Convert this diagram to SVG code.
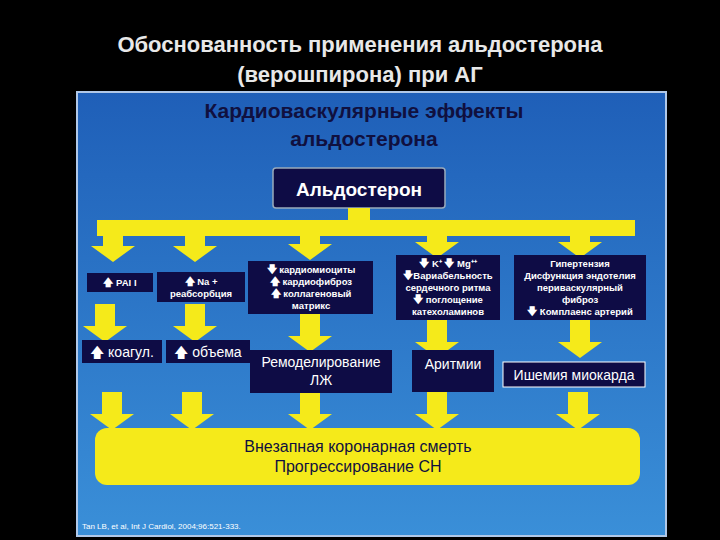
<svg xmlns="http://www.w3.org/2000/svg" width="720" height="540" viewBox="0 0 720 540">
<defs>
<linearGradient id="bg" x1="0" y1="0" x2="0" y2="1"><stop offset="0" stop-color="#1f5fb8"/><stop offset="1" stop-color="#3a8fd8"/></linearGradient>
<path id="a1" d="M-10,0 H10 V22 H22 L0,38 L-22,22 H-10 Z" fill="#f5ea1a"/>
</defs>
<style>
text{font-family:"Liberation Sans",Arial,sans-serif;text-anchor:middle}
.t{fill:#e8e8e8;font-size:22px;font-weight:bold}
.h{fill:#10103f;font-size:21px;font-weight:bold}
.n rect{fill:#0e0c45}
.s{fill:#fff;font-size:9.5px;font-weight:bold}
.m{fill:#fff;font-size:14px}
.y{fill:#f5ea1a}
</style>
<rect width="720" height="540" fill="#000"/>
<text class="t" x="360" y="52">Обоснованность применения альдостерона</text>
<text class="t" x="360" y="82">(верошпирона) при АГ</text>
<rect x="77" y="92" width="589" height="444" fill="url(#bg)" stroke="#b0c8e8" stroke-width="2"/>
<text class="h" x="364" y="118">Кардиоваскулярные эффекты</text>
<text class="h" x="364" y="146">альдостерона</text>
<g id="aldo" class="n"><rect x="273" y="168" width="172" height="40" rx="3" stroke="#9ab" stroke-width="1.5"/><text x="359" y="196" fill="#fff" font-size="19" font-weight="bold">Альдостерон</text></g>
<g id="connectors">
<rect class="y" x="348" y="208" width="22" height="16"/>
<rect class="y" x="97" y="220" width="538" height="16"/>
<use href="#a1" x="113" y="224"/><use href="#a1" x="195" y="224"/><use href="#a1" x="310" y="222"/><use href="#a1" x="437" y="220"/><use href="#a1" x="580" y="220"/>
<use href="#a1" x="105" y="304"/><use href="#a1" x="195" y="304"/><use href="#a1" x="310" y="314"/><use href="#a1" x="437" y="320"/><use href="#a1" x="580" y="320"/>
<use href="#a1" x="112" y="392"/><use href="#a1" x="192" y="392"/><use href="#a1" x="310" y="392"/><use href="#a1" x="437" y="392"/><use href="#a1" x="578" y="392"/>
</g>
<g id="pai" class="n"><rect x="87" y="273" width="66" height="19"/><text class="s" x="120" y="286">🡅 PAI I</text></g>
<g id="na" class="n"><rect x="157" y="272" width="88" height="30"/><text class="s" x="201" y="285">🡅 Na +</text><text class="s" x="201" y="297">реабсорбция</text></g>
<g id="cardio" class="n"><rect x="248" y="261" width="125" height="53"/><text class="s" x="311" y="273">🡇 кардиомиоциты</text><text class="s" x="311" y="285">🡅 кардиофиброз</text><text class="s" x="311" y="297">🡅 коллагеновый</text><text class="s" x="311" y="309">матрикс</text></g>
<g id="k" class="n"><rect x="396" y="255" width="104" height="65"/><text class="s" x="448" y="267">🡇 K⁺  🡇 Mg⁺⁺</text><text class="s" x="448" y="279">🡇Вариабельность</text><text class="s" x="448" y="291">сердечного ритма</text><text class="s" x="448" y="303">🡇 поглощение</text><text class="s" x="448" y="315">катехоламинов</text></g>
<g id="hyp" class="n"><rect x="514" y="255" width="132" height="65"/><text class="s" x="580" y="267">Гипертензия</text><text class="s" x="580" y="279">Дисфункция эндотелия</text><text class="s" x="580" y="291">периваскулярный</text><text class="s" x="580" y="303">фиброз</text><text class="s" x="580" y="315">🡇 Комплаенс артерий</text></g>
<g id="koag" class="n"><rect x="82" y="340" width="80" height="23"/><text class="m" x="122" y="357">🡅 коагул.</text></g>
<g id="obem" class="n"><rect x="166" y="340" width="84" height="23"/><text class="m" x="208" y="357">🡅 объема</text></g>
<g id="remod" class="n"><rect x="250" y="350" width="142" height="43"/><text class="m" x="321" y="367">Ремоделирование</text><text class="m" x="321" y="385">ЛЖ</text></g>
<g id="arit" class="n"><rect x="412" y="350" width="82" height="42"/><text class="m" x="453" y="369">Аритмии</text></g>
<g id="ish" class="n"><rect x="503" y="362" width="142" height="25" stroke="#fff" stroke-width="1"/><text class="m" x="574" y="380">Ишемия миокарда</text></g>
<g id="death"><rect x="95" y="428" width="545" height="57" rx="12" fill="#f5ea1a"/><text x="358" y="452" fill="#10103f" font-size="16">Внезапная коронарная смерть</text><text x="358" y="472" fill="#10103f" font-size="16">Прогрессирование СН</text></g>
<text x="82" y="529" fill="#fff" font-size="8" style="text-anchor:start">Tan LB, et al, Int J Cardiol, 2004;96:521-333.</text>
</svg>
